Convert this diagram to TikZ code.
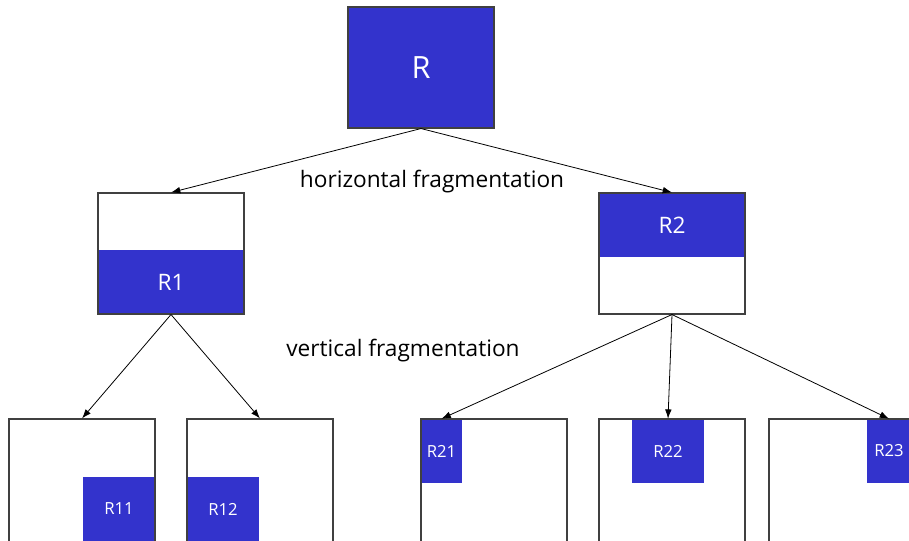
\documentclass[tikz,border=0pt]{standalone}
\usepackage{fontspec}
\setmainfont{Open Sans}
\usetikzlibrary{arrows.meta}
\definecolor{fragblue}{HTML}{3333CC}
\begin{document}
\begin{tikzpicture}[x=0.75pt, y=-0.75pt,
        frame/.style={draw=black!75, line width=0.8pt, rectangle, inner sep=0pt,
            minimum width=109.5pt, minimum height=90.75pt},
        part/.style={fill=fragblue, draw=none, rectangle, inner sep=0pt,
            text=white, font=\fontsize{17}{17}\selectfont},
        small/.style={part, minimum width=54pt, minimum height=48pt,
            font=\fontsize{12.5}{12.5}\selectfont},
        arr/.style={-{Latex[length=7pt, width=5pt]}, line width=0.6pt}]
    \useasboundingbox (0,0) rectangle (909,540);
    \clip (0,0) rectangle (909,540);

    % top relation
    \node[part, minimum width=109.5pt, minimum height=90.75pt,
        font=\fontsize{23}{23}\selectfont] (r) at (421,67.5) {R};
    \node[frame] (rframe) at (421,67.5) {};

    % horizontal fragments
    \node[part, minimum width=109.5pt, minimum height=48pt] (r1) at (171,282) {R1};
    \node[frame] (r1frame) at (171,253.5) {};
    \node[part, minimum width=109.5pt, minimum height=48pt] (r2) at (672,225) {R2};
    \node[frame] (r2frame) at (672,253.5) {};

    % vertical fragments
    \node[small] (r11) at (119,509) {R11};
    \node[small] (r12) at (223,509) {R12};
    \node[small, minimum width=31pt] (r21) at (441.5,451) {R21};
    \node[small] (r22) at (668,451) {R22};
    \node[small, minimum width=33pt] (r23) at (889,451) {R23};
    \node[frame, minimum height=96pt] (r1a) at (82,483) {};
    \node[frame, minimum height=96pt] (r1b) at (260,483) {};
    \node[frame, minimum height=96pt] (r2a) at (494,483) {};
    \node[frame, minimum height=96pt] (r2b) at (672,483) {};
    \node[frame, minimum height=96pt] (r2c) at (842,483) {};

    \node[font=\fontsize{17}{17}\selectfont] (hlabel) at (432,182) {horizontal fragmentation};
    \node[font=\fontsize{17}{17}\selectfont] (vlabel) at (403,351) {vertical fragmentation};

    \draw[arr] (rframe.south) -- (r1frame.north);
    \draw[arr] (rframe.south) -- (r2frame.north);
    \draw[arr] (r1frame.south) -- (r1a.north);
    \draw[arr] (r1frame.south) -- (r1b.north);
    \draw[arr] (r2frame.south) -- (r21.north);
    \draw[arr] (r2frame.south) -- (r22.north);
    \draw[arr] (r2frame.south) -- (r23.north);
\end{tikzpicture}
\end{document}
